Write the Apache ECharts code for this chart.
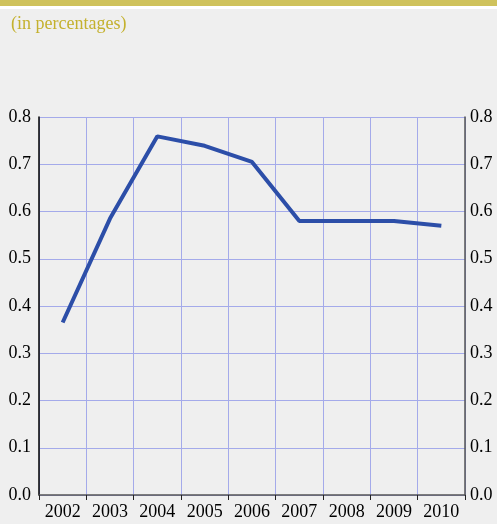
<!DOCTYPE html>
<html>
<head>
<meta charset="utf-8">
<script src="https://cdn.jsdelivr.net/npm/echarts@6/dist/echarts.min.js"></script>
<style>
  html, body { margin: 0; padding: 0; background: #efefef; }
  #chart { width: 497px; height: 524px; }
</style>
</head>
<body>
<div id="chart"></div>
<script>
// data
var years = ["2002", "2003", "2004", "2005", "2006", "2007", "2008", "2009", "2010"];
var values = [0.365, 0.585, 0.759, 0.739, 0.705, 0.58, 0.58, 0.58, 0.57];
var subtitle = "(in percentages)";

var serif = "'Liberation Serif', 'DejaVu Serif', serif";
var chart = echarts.init(document.getElementById("chart"));

var valueAxis = function (pos, lineColor, margin) {
  return {
    type: "value",
    position: pos,
    min: 0,
    max: 0.8,
    interval: 0.1,
    axisLine: { show: true, lineStyle: { color: lineColor, width: 1.5 } },
    axisTick: { show: false },
    axisLabel: {
      margin: margin,
      fontFamily: serif,
      fontSize: 18,
      color: "#000",
      formatter: function (v) { return v.toFixed(1); }
    },
    splitLine: { show: pos === "left", lineStyle: { color: "#a4aaea", width: 1 } }
  };
};

chart.setOption({
  backgroundColor: "#efefef",
  animation: false,
  graphic: [
    { type: "rect", shape: { x: 0, y: 0, width: 497, height: 6 }, style: { fill: "#cfc25c" } },
    { type: "rect", shape: { x: 0, y: 6, width: 497, height: 3 }, style: { fill: "#ffffff" } }
  ],
  title: {
    text: subtitle,
    left: 6,
    top: 10,
    textStyle: { fontFamily: serif, fontSize: 18, fontWeight: "normal", color: "#c4b12e" }
  },
  grid: { left: 39, right: 32, top: 117, bottom: 29 },
  xAxis: {
    type: "category",
    data: years,
    boundaryGap: true,
    axisLine: { lineStyle: { color: "#555", width: 1.5 } },
    axisTick: { show: true, length: 5, lineStyle: { color: "#222" } },
    axisLabel: { margin: 8, fontFamily: serif, fontSize: 18, color: "#000" },
    splitLine: { show: true, lineStyle: { color: "#a4aaea", width: 1 } }
  },
  yAxis: [valueAxis("left", "#000", 8), valueAxis("right", "#555", 5)],
  series: [{
    type: "line",
    data: values,
    showSymbol: false,
    lineStyle: { color: "#2c4ea8", width: 4 },
    itemStyle: { color: "#2c4ea8" }
  }]
});
</script>
</body>
</html>
